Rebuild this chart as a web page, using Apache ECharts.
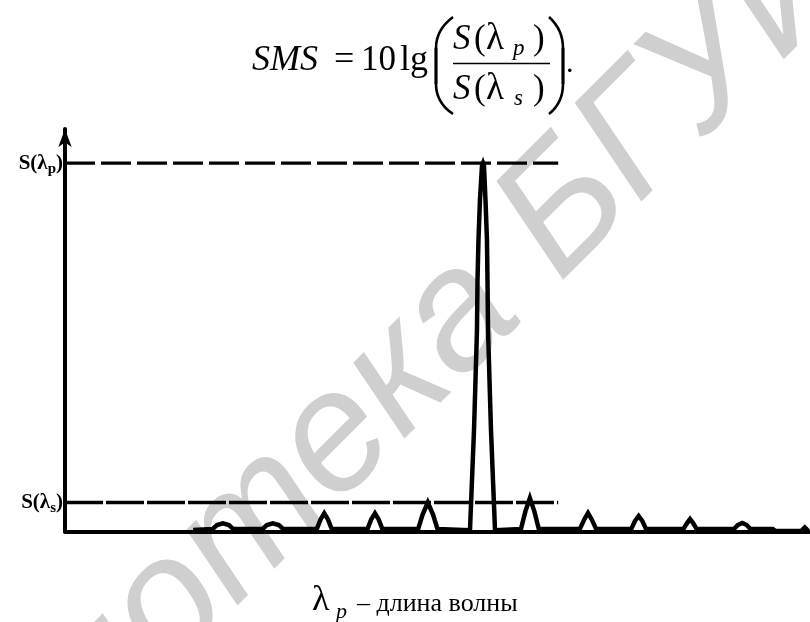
<!DOCTYPE html>
<html><head><meta charset="utf-8">
<script src="https://cdn.jsdelivr.net/npm/echarts@6/dist/echarts.min.js"></script>
<style>html,body{margin:0;padding:0;background:#fff}#c{width:810px;height:622px}</style>
</head><body><div id="c"></div>
<script>
// ---- data (arbitrary units) ----
const spectrumX = [17.2, 19.8, 20.4, 21.2, 22.0, 22.6, 26.5, 27.1, 27.9, 28.7, 29.3,
  33.8, 34.3, 34.8, 35.3, 35.8, 40.6, 41.1, 41.6, 42.1, 42.6, 47.4, 48.0, 48.7, 49.4, 50.0,
  54.36, 54.9, 55.3, 55.37, 55.5, 55.7, 55.97, 56.11, 56.24, 56.44, 56.64, 56.71, 56.78, 57.18, 57.72,
  61.2, 61.8, 62.4, 63.0, 63.6, 69.1, 69.7, 70.2, 70.7, 71.3, 76.0, 76.5, 77.0, 77.5, 78.0,
  83.0, 83.5, 83.9, 84.3, 84.8, 89.8, 90.3, 90.9, 91.5, 92.0, 95.0, 95.4, 98.8, 99.3, 99.8];
const spectrumY = [0.4, 0.6, 1.6, 2.0, 1.6, 0.6, 0.6, 1.6, 2.0, 1.6, 0.6,
  0.6, 3.0, 4.5, 3.0, 0.6, 0.6, 3.0, 4.5, 3.0, 0.6, 0.6, 4.2, 7.2, 4.2, 0.6,
  0.3, 25.2, 50.1, 62.5, 72.4, 82.4, 90.8, 91.5, 90.8, 82.4, 72.4, 62.5, 50.1, 25.2, 0.3,
  0.6, 5.0, 8.3, 5.0, 0.6, 0.6, 3.0, 4.6, 3.0, 0.6, 0.6, 2.6, 3.85, 2.6, 0.6,
  0.6, 2.1, 3.1, 2.1, 0.6, 0.6, 1.6, 2.1, 1.6, 0.6, 0.6, 0.1, 0.1, 1.0, 0.1];
const peakLevel = 91.5;      // S(λp)
const sideLevel = 7.2;       // S(λs)
const refLineEndX = 66.2;
const levelSubs = ['p', 's'];
const xAxisTitle = '– длина волны';
const watermarkA = 'Библиотека ';
const watermarkB = 'БГУИР';

const serif = "'Liberation Serif','Times New Roman',serif";
function T(text, x, base, fs, extra) {
  extra = extra || {};
  return {
    type: 'text', x: x, y: base - 0.34 * fs, silent: true, z: 10,
    style: {
      text: text, fill: '#000',
      font: (extra.italic ? 'italic ' : '') + fs + 'px ' + serif,
      align: extra.align || 'left', textAlign: extra.align || 'left',
      verticalAlign: 'middle', textVerticalAlign: 'middle'
    }
  };
}

const spectrum = spectrumX.map((x, i) => [x, spectrumY[i]]);
const chart = echarts.init(document.getElementById('c'), null, {renderer: 'canvas'});

const wmFont = 'italic 170px "Liberation Sans", Arial, sans-serif';
const wmP = [526, 250];

chart.setOption({
  animation: false,
  backgroundColor: '#fff',
  grid: {left: 65, right: 0, top: 129, bottom: 90.5},
  xAxis: {
    type: 'value', min: 0, max: 100,
    axisLine: {show: true, lineStyle: {color: '#000', width: 4}},
    axisTick: {show: false}, axisLabel: {show: false}, splitLine: {show: false}
  },
  yAxis: {
    type: 'value', min: 0, max: 100,
    axisLine: {show: true, onZero: false, lineStyle: {color: '#000', width: 4},
      symbol: ['none', 'arrow'], symbolSize: [10, 18]},
    axisTick: {show: false}, splitLine: {show: false},
    axisLabel: {
      show: true, margin: 2, customValues: [sideLevel, peakLevel],
      formatter: v => '{m|S(λ}{s|' + (Math.abs(v - peakLevel) < 0.01 ? levelSubs[0] : levelSubs[1]) + '}{m|)}',
      rich: {
        m: {fontFamily: serif, fontWeight: 'bold', fontSize: 21, color: '#000', lineHeight: 26},
        s: {fontFamily: serif, fontWeight: 'bold', fontSize: 15, color: '#000', lineHeight: 13, verticalAlign: 'bottom'}
      }
    }
  },
  series: [
    {type: 'line', data: [[0, peakLevel], [refLineEndX, peakLevel]], symbol: 'none', silent: true,
      lineStyle: {color: '#000', width: 3.3, type: [30, 6]}, z: 3},
    {type: 'line', data: [[0, sideLevel], [refLineEndX, sideLevel]], symbol: 'none', silent: true,
      lineStyle: {color: '#000', width: 3.3, type: [38, 3]}, z: 3},
    {type: 'line', data: spectrum, symbol: 'none', silent: true,
      lineStyle: {color: '#000', width: 4.5, join: 'miter'}, z: 4}
  ],
  graphic: {elements: [
    // watermark
    {type: 'text', x: wmP[0], y: wmP[1], rotation: Math.PI / 4, silent: true, z: -10,
      style: {text: watermarkA, font: wmFont, fill: '#cfcfcf', align: 'right', textAlign: 'right', verticalAlign: 'middle', textVerticalAlign: 'middle'}},
    {type: 'text', x: wmP[0], y: wmP[1], rotation: Math.PI / 4, silent: true, z: -10,
      style: {text: watermarkB, font: wmFont, fill: '#cfcfcf', align: 'left', textAlign: 'left', verticalAlign: 'middle', textVerticalAlign: 'middle'}},
    // formula
    T('SMS', 252, 73, 36, {italic: true}),
    T('=', 334, 73, 36),
    T('10', 361, 73, 35),
    T('lg', 400, 73, 36),
    {type: 'bezierCurve', silent: true, z: 10, shape: {x1: 453, y1: 17, x2: 436, y2: 48, cpx1: 441, cpy1: 26, cpx2: 436, cpy2: 36}, style: {stroke: '#000', lineWidth: 2.6, fill: null}},
    {type: 'line', silent: true, z: 10, shape: {x1: 436, y1: 48, x2: 436, y2: 84}, style: {stroke: '#000', lineWidth: 3.2}},
    {type: 'bezierCurve', silent: true, z: 10, shape: {x1: 436, y1: 84, x2: 453, y2: 114, cpx1: 436, cpy1: 96, cpx2: 441, cpy2: 106}, style: {stroke: '#000', lineWidth: 2.6, fill: null}},
    {type: 'bezierCurve', silent: true, z: 10, shape: {x1: 549, y1: 17, x2: 563, y2: 48, cpx1: 559, cpy1: 26, cpx2: 563, cpy2: 36}, style: {stroke: '#000', lineWidth: 2.6, fill: null}},
    {type: 'line', silent: true, z: 10, shape: {x1: 563, y1: 48, x2: 563, y2: 84}, style: {stroke: '#000', lineWidth: 3.2}},
    {type: 'bezierCurve', silent: true, z: 10, shape: {x1: 563, y1: 84, x2: 549, y2: 114, cpx1: 563, cpy1: 96, cpx2: 559, cpy2: 106}, style: {stroke: '#000', lineWidth: 2.6, fill: null}},
    T('S', 453, 52, 35, {italic: true}),
    T('(', 474, 52, 35),
    T('λ', 486, 52, 37),
    T('p', 513, 57, 23, {italic: true}),
    T(')', 533, 52, 35),
    {type: 'line', silent: true, z: 10, shape: {x1: 453, y1: 63.5, x2: 550, y2: 63.5}, style: {stroke: '#000', lineWidth: 1.6}},
    T('S', 453, 102, 35, {italic: true}),
    T('(', 474, 102, 35),
    T('λ', 486, 102, 37),
    T('s', 514, 107, 23, {italic: true}),
    T(')', 533, 102, 35),
    T('.', 566, 74, 30),
    // x-axis caption
    T('λ', 312, 613, 36),
    T('p', 336, 620, 22, {italic: true}),
    T(xAxisTitle, 357, 613, 26)
  ]}
});
</script></body></html>
